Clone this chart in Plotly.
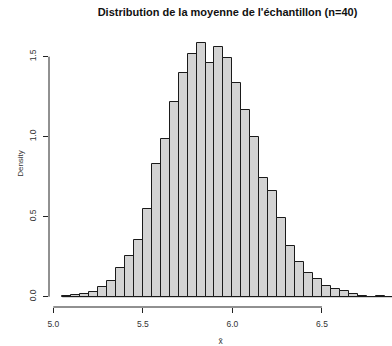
import plotly.graph_objects as go

# Histogram of sample means (n=40): bin edges and density per bin
bin_start = 5.05
bin_width = 0.05
densities = [
    0.004, 0.012, 0.019, 0.027, 0.063, 0.097, 0.181, 0.257, 0.356, 0.551,
    0.829, 0.988, 1.214, 1.396, 1.514, 1.586, 1.458, 1.562, 1.489, 1.338,
    1.168, 0.996, 0.744, 0.658, 0.490, 0.319, 0.215, 0.151, 0.111, 0.070,
    0.048, 0.037, 0.019, 0.005, 0.000, 0.006, 0.000,
]
x_ticks = [5.0, 5.5, 6.0, 6.5]
x_tick_text = ["5.0", "5.5", "6.0", "6.5"]
y_ticks = [0.0, 0.5, 1.0, 1.5]
y_tick_text = ["0.0", "0.5", "1.0", "1.5"]

title_text = "Distribution de la moyenne de l'échantillon (n=40)"
x_label = "x\u0304"
y_label = "Density"

centers = [bin_start + bin_width * (i + 0.5) for i in range(len(densities))]
edges = [bin_start, bin_start + bin_width * len(densities)]

W, H = 392, 346
ml, mr, mt, mb = 49, 0, 20, 39
# data range of the plot area (R-style axes offset from the data region)
px_per_x = 179.1
px_per_y = 160.0
x0_px = 53.3 - ml          # distance from plot left edge to x=5.0
y0_px = (H - mb) - 296.7   # distance from plot bottom edge to y=0
plot_w = W - ml - mr
plot_h = H - mt - mb
x_lo = 5.0 - x0_px / px_per_x
x_hi = x_lo + plot_w / px_per_x
y_lo = 0.0 - y0_px / px_per_y
y_hi = y_lo + plot_h / px_per_y

font = "Liberation Sans, Arial, Helvetica, sans-serif"
axis_col = "#222222"

fig = go.Figure()
fig.add_trace(go.Bar(
    x=centers, y=densities, width=bin_width,
    marker=dict(color="#D3D3D3", line=dict(color="#1a1a1a", width=1)),
    hoverinfo="x+y",
))
# bottom edge of the bins (zero-height bins show as a line)
fig.add_trace(go.Scatter(
    x=edges, y=[0, 0], mode="lines",
    line=dict(color="#1a1a1a", width=1), hoverinfo="skip",
))

# axis lines spanning first to last tick
fig.add_shape(type="line", xref="x", yref="paper",
              x0=x_ticks[0], x1=x_ticks[-1], y0=0, y1=0,
              line=dict(color=axis_col, width=1))
fig.add_shape(type="line", xref="paper", yref="y",
              x0=0, x1=0, y0=y_ticks[0], y1=y_ticks[-1],
              line=dict(color=axis_col, width=1))

fig.update_layout(
    width=W, height=H,
    margin=dict(l=ml, r=mr, t=mt, b=mb, pad=0, autoexpand=False),
    paper_bgcolor="white", plot_bgcolor="white",
    showlegend=False, bargap=0,
    title=dict(text="<b>" + title_text + "</b>", x=227.5 / W, xanchor="center",
               xref="container", y=1 - 11.7 / H, yref="container", yanchor="middle",
               font=dict(family=font, size=11, color="#111111")),
    xaxis=dict(range=[x_lo, x_hi], showgrid=False, zeroline=False, showline=False,
               automargin=False,
               tickmode="array", tickvals=x_ticks, ticktext=x_tick_text,
               ticks="outside", ticklen=5, tickwidth=1, tickcolor=axis_col,
               ticklabelstandoff=4,
               tickfont=dict(family=font, size=8.5, color="#333333"),
               title=dict(text=x_label, standoff=18,
                          font=dict(family=font, size=8.5, color="#333333"))),
    yaxis=dict(range=[y_lo, y_hi], showgrid=False, zeroline=False, showline=False,
               automargin=False,
               tickmode="array", tickvals=y_ticks, ticktext=y_tick_text,
               ticks="outside", ticklen=5, tickwidth=1, tickcolor=axis_col,
               tickangle=-90, ticklabelstandoff=4,
               tickfont=dict(family=font, size=8.5, color="#333333"),
               title=dict(text=y_label, standoff=2,
                          font=dict(family=font, size=8, color="#333333"))),
)

fig.write_html("out.html")
